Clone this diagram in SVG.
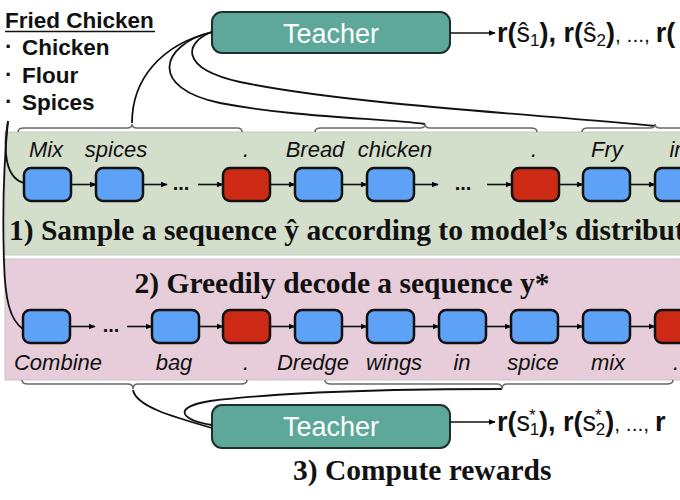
<svg xmlns="http://www.w3.org/2000/svg" width="680" height="500" viewBox="0 0 680 500">
<defs>
<marker id="ah" viewBox="0 0 10 10" refX="9" refY="5" markerWidth="7" markerHeight="7" markerUnits="userSpaceOnUse" orient="auto"><path d="M0,1 L10,5 L0,9 z" fill="#000"/></marker>
<style>
.band-g{fill:#d4dfcb;stroke:#c4c9c0;stroke-width:1}
.band-p{fill:#e6cdd9;stroke:#c9c2c6;stroke-width:1}
.tok{fill:#5ea2f7;stroke:#111;stroke-width:2.5}
.eos{fill:#cc2a15;stroke:#111;stroke-width:2.5}
.teacher{fill:#5ea89a;stroke:#1c2f2b;stroke-width:2}
.tt{font-family:"Liberation Sans",Arial,sans-serif;font-size:27px;fill:#fff;text-anchor:middle}
.word{font-family:"Liberation Sans",Arial,sans-serif;font-size:22px;font-style:italic;fill:#111;text-anchor:middle}
.title{font-family:"Liberation Serif","Times New Roman",serif;font-size:29.5px;font-weight:bold;fill:#111}
.list{font-family:"Liberation Sans",Arial,sans-serif;font-size:22.5px;font-weight:bold;fill:#111}
.rew{font-family:"Liberation Sans",Arial,sans-serif;font-size:27px;font-weight:bold;fill:#111}
.dots{font-family:"Liberation Sans",Arial,sans-serif;font-size:20px;font-weight:bold;fill:#111;text-anchor:middle}
.arr{stroke:#111;stroke-width:1.6;fill:none;marker-end:url(#ah)}
.curve{stroke:#111;stroke-width:1.8;fill:none}
.brace{stroke:#6a6a6a;stroke-width:1.6;fill:none}
</style>
</defs>
<rect width="680" height="500" fill="#fff"/>

<g id="bands">
<rect class="band-g" x="5" y="132" width="690" height="123"/>
<rect class="band-p" x="5" y="259" width="690" height="121"/>
</g>

<g id="ingredients">
<text class="list" x="5" y="28">Fried Chicken</text>
<line x1="5" y1="31.5" x2="155" y2="31.5" stroke="#111" stroke-width="1.6"/>
<text class="list" x="5" y="54">·</text>
<text class="list" x="22" y="55">Chicken</text>
<text class="list" x="5" y="82">·</text>
<text class="list" x="22" y="83">Flour</text>
<text class="list" x="5" y="109">·</text>
<text class="list" x="22" y="110">Spices</text>
</g>

<g id="teacher-top">
<rect class="teacher" x="212" y="12" width="238" height="41" rx="10"/>
<text class="tt" x="331" y="43">Teacher</text>
</g>
<g id="reward-top">
<text class="rew" x="497" y="42">r(<tspan font-weight="normal">ŝ</tspan><tspan font-weight="normal" font-size="17" dy="4">1</tspan><tspan dy="-4">), r(</tspan><tspan font-weight="normal">ŝ</tspan><tspan font-weight="normal" font-size="17" dy="4">2</tspan><tspan dy="-4">)</tspan><tspan font-weight="normal" font-size="21">, ..., </tspan>r(</text>
</g>

<g id="teacher-bottom">
<rect class="teacher" x="212" y="405" width="238" height="43" rx="10"/>
<text class="tt" x="331" y="436">Teacher</text>
</g>
<g id="reward-bottom">
<text class="rew" x="497" y="431">r(<tspan font-weight="normal">s</tspan><tspan font-weight="normal" font-size="17" dx="-1" dy="-10">*</tspan><tspan font-weight="normal" font-size="17" dx="-6" dy="14">1</tspan><tspan dy="-4">), r(</tspan><tspan font-weight="normal">s</tspan><tspan font-weight="normal" font-size="17" dx="-1" dy="-10">*</tspan><tspan font-weight="normal" font-size="17" dx="-6" dy="14">2</tspan><tspan dy="-4">)</tspan><tspan font-weight="normal" font-size="21">, ..., </tspan>r</text>
</g>

<g id="row1-nodes">
<rect class="tok" x="24" y="168" width="47" height="33" rx="7"/>
<rect class="tok" x="96" y="168" width="47" height="33" rx="7"/>
<rect class="eos" x="223" y="168" width="47" height="33" rx="7"/>
<rect class="tok" x="295" y="168" width="47" height="33" rx="7"/>
<rect class="tok" x="367" y="168" width="47" height="33" rx="7"/>
<rect class="eos" x="512" y="168" width="47" height="33" rx="7"/>
<rect class="tok" x="583" y="168" width="47" height="33" rx="7"/>
<rect class="tok" x="655" y="168" width="47" height="33" rx="7"/>
</g>
<g id="row1-labels">
<text class="word" x="46" y="157">Mix</text>
<text class="word" x="116" y="157">spices</text>
<text class="word" x="246" y="157">.</text>
<text class="word" x="315" y="157">Bread</text>
<text class="word" x="395" y="157">chicken</text>
<text class="word" x="534" y="157">.</text>
<text class="word" x="607" y="157">Fry</text>
<text class="word" x="678" y="157">in</text>
<text class="dots" x="181" y="190">...</text>
<text class="dots" x="463" y="190">...</text>
</g>
<text class="title" x="9" y="240">1) Sample a sequence ŷ according to model’s distribution</text>

<text class="title" x="342" y="293" text-anchor="middle">2) Greedily decode a sequence y*</text>
<g id="row2-nodes">
<rect class="tok" x="23" y="310" width="47" height="33" rx="7"/>
<rect class="tok" x="152" y="310" width="47" height="33" rx="7"/>
<rect class="eos" x="223" y="310" width="47" height="33" rx="7"/>
<rect class="tok" x="295" y="310" width="47" height="33" rx="7"/>
<rect class="tok" x="367" y="310" width="47" height="33" rx="7"/>
<rect class="tok" x="439" y="310" width="47" height="33" rx="7"/>
<rect class="tok" x="511" y="310" width="47" height="33" rx="7"/>
<rect class="tok" x="583" y="310" width="47" height="33" rx="7"/>
<rect class="eos" x="655" y="310" width="47" height="33" rx="7"/>
</g>
<g id="row2-labels">
<text class="word" x="58" y="370">Combine</text>
<text class="word" x="174" y="370">bag</text>
<text class="word" x="246" y="370">.</text>
<text class="word" x="313" y="370">Dredge</text>
<text class="word" x="394" y="370">wings</text>
<text class="word" x="462" y="370">in</text>
<text class="word" x="533" y="370">spice</text>
<text class="word" x="608" y="370">mix</text>
<text class="word" x="676" y="370">.</text>
<text class="dots" x="111" y="332">...</text>
</g>

<text class="title" x="293" y="480">3) Compute rewards</text>

<g id="connectors">
<line class="arr" x1="71" y1="184.5" x2="96" y2="184.5"/>
<line class="arr" x1="143" y1="184.5" x2="167" y2="184.5"/>
<line class="arr" x1="198" y1="184.5" x2="223" y2="184.5"/>
<line class="arr" x1="270" y1="184.5" x2="295" y2="184.5"/>
<line class="arr" x1="342" y1="184.5" x2="367" y2="184.5"/>
<line class="arr" x1="414" y1="184.5" x2="438" y2="184.5"/>
<line class="arr" x1="487" y1="184.5" x2="512" y2="184.5"/>
<line class="arr" x1="559" y1="184.5" x2="583" y2="184.5"/>
<line class="arr" x1="630" y1="184.5" x2="655" y2="184.5"/>

<line class="arr" x1="70" y1="326.5" x2="95" y2="326.5"/>
<line class="arr" x1="127" y1="326.5" x2="152" y2="326.5"/>
<line class="arr" x1="199" y1="326.5" x2="223" y2="326.5"/>
<line class="arr" x1="270" y1="326.5" x2="295" y2="326.5"/>
<line class="arr" x1="342" y1="326.5" x2="367" y2="326.5"/>
<line class="arr" x1="414" y1="326.5" x2="439" y2="326.5"/>
<line class="arr" x1="486" y1="326.5" x2="511" y2="326.5"/>
<line class="arr" x1="558" y1="326.5" x2="583" y2="326.5"/>
<line class="arr" x1="630" y1="326.5" x2="655" y2="326.5"/>

<line class="arr" x1="450" y1="33" x2="495" y2="33"/>
<line class="arr" x1="450" y1="422" x2="495" y2="422"/>

<path class="curve" d="M8,121 C3,150 5,178 24,183"/>
<path class="curve" d="M8,121 C3,170 3,230 4,262 C5,300 10,320 23,329"/>

<path class="curve" d="M212,32 C160,45 132,80 132,123"/>
<path class="curve" d="M212,32 C160,45 148,88 220,103 C300,118 380,118 425,124"/>
<path class="curve" d="M212,32 C185,42 178,68 240,82 C350,105 550,115 655,126"/>

<path class="curve" d="M133,390 C136,406 170,416 212,428"/>
<path class="curve" d="M212,425 C180,420 172,407 210,401 C290,391 420,389 502,389"/>

<path class="brace" d="M18,132 Q18,128 24,128 L127,128 Q132,128 132,124 Q132,128 137,128 L237,128 Q242,128 242,132"/>
<path class="brace" d="M315,132 Q315,128 321,128 L420,128 Q425,128 425,124 Q425,128 430,128 L531,128 Q537,128 537,132"/>
<path class="brace" d="M582,132 Q582,128 588,128 L650,128 Q655,128 655,124 Q655,128 660,128 L690,128"/>
<path class="brace" d="M22,380 Q22,384 28,384 L128,384 Q133,384 133,389 Q133,384 138,384 L241,384 Q247,384 247,380"/>
<path class="brace" d="M325,380 Q325,384 331,384 L497,384 Q502,384 502,389 Q502,384 507,384 L667,384 Q673,384 673,380"/>
</g>
</svg>
